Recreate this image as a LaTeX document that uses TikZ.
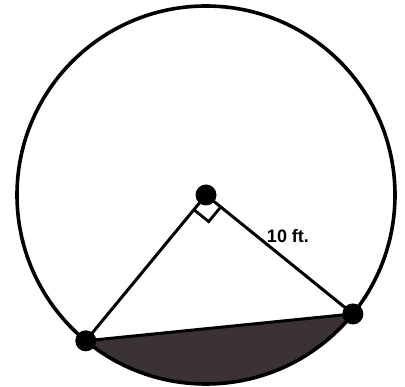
\documentclass[tikz,border=0pt]{standalone}
\usepackage{fontspec}
\setmainfont{Liberation Sans}
\usetikzlibrary{calc}
\begin{document}
\begin{tikzpicture}[x=1pt,y=1pt,
  dotnode/.style={circle,fill=black,inner sep=0pt,minimum size=21pt},
  edge/.style={line width=3pt,line cap=round,line join=round},
  ring/.style={line width=3.6pt},
  rightmark/.style={line width=2.8pt,line join=miter}]
\useasboundingbox (0,0) rectangle (405,-387);
\def\R{189}
\coordinate (Oc) at (206,-195);
\coordinate (Ac) at ($(Oc)+(230.5:\R)$);
\coordinate (Bc) at ($(Oc)+(321:\R)$);
% shaded segment
\fill[fill={rgb,255:red,58;green,50;blue,52}] (Ac) arc[start angle=230.5,end angle=321,radius=\R] -- cycle;
% circle
\draw[ring] (Oc) circle[radius=\R];
% right angle mark
\draw[rightmark] ($(Oc)+(230.5:19)$) -- ($(Oc)+(230.5:19)+(321:19)$) -- ($(Oc)+(321:19)$);
% nodes
\node[dotnode] (O) at (Oc) {};
\node[dotnode] (A) at (Ac) {};
\node[dotnode] (B) at (Bc) {};
% segments
\draw[edge] (O.center) -- (A.center);
\draw[edge] (O.center) -- (B.center);
\draw[edge] (A.center) -- (B.center);
\node[font=\fontsize{18}{21}\selectfont\bfseries,inner sep=0pt] (L) at (288,-236) {10 ft.};
\end{tikzpicture}
\end{document}
